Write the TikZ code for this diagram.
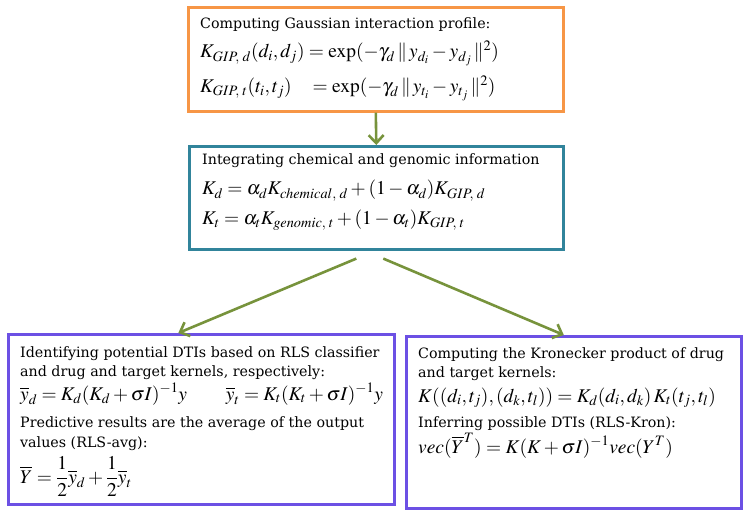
\documentclass[tikz,border=0pt]{standalone}
\usepackage{amsmath}
\usepackage{mathptmx}
\usepackage[no-math]{fontspec}
\setmainfont{DejaVu Serif}
\usetikzlibrary{arrows,arrows.meta}

\definecolor{gipline}{RGB}{247,150,70}
\definecolor{mixline}{RGB}{49,132,155}
\definecolor{rlsline}{RGB}{108,80,228}
\definecolor{flowline}{RGB}{119,147,60}

\tikzset{
  box/.style={draw, line width=2.6bp, anchor=north west, inner sep=0pt},
  txt/.style={anchor=base west, inner sep=0pt, font=\fontsize{14.3}{16}\selectfont},
  eqn/.style={anchor=base west, inner sep=0pt, font=\fontsize{19.5}{22}\selectfont},
  flow/.style={-{Straight Barb[length=8bp,width=15bp]}, draw=flowline, line width=2.6bp},
}

\begin{document}
\begin{tikzpicture}[x=1bp,y=-1bp]
\useasboundingbox (0,0) rectangle (750,515);
% the four boxes
\node[box, draw=gipline, minimum width=375bp, minimum height=104bp] (gip) at (187,6) {};
\node[box, draw=mixline, minimum width=374bp, minimum height=103bp] (mix) at (188,145) {};
\node[box, draw=rlsline, minimum width=386bp, minimum height=170bp] (rls) at (7,333) {};
\node[box, draw=rlsline, minimum width=335bp, minimum height=172bp] (kron) at (405,335) {};
% Gaussian interaction profile
\node[txt] (gip-t1) at (200,29) {Computing Gaussian interaction profile:};
\node[eqn] (gip-e1) at (200,58) {$K_{GIP,\;d}(d_i,d_j) = \exp(-\gamma_d\, \|\, y_{d_i} - y_{d_j}\, \|^2)$};
\node[eqn] (gip-e2) at (200,93) {$K_{GIP,\;t}(t_i,t_j)\ \ \; = \exp(-\gamma_d\, \|\, y_{t_i} - y_{t_j}\, \|^2)$};
% chemical and genomic
\node[txt] (mix-t1) at (202,165) {Integrating chemical and genomic information};
\node[eqn] (mix-e1) at (202,195) {$K_d = \alpha_d K_{chemical,\;d} + (1-\alpha_d) K_{GIP,\;d}$};
\node[eqn] (mix-e2) at (202,225) {$K_t = \alpha_t K_{genomic,\;t} + (1-\alpha_t) K_{GIP,\;t}$};
% RLS-avg
\node[txt] (rls-t1) at (20,357) {Identifying potential DTIs based on RLS classifier};
\node[txt] (rls-t2) at (20,376) {and drug and target kernels, respectively:};
\node[eqn] (rls-e1) at (20,400) {$\overline{y}_d = K_d(K_d+\sigma I)^{-1} y \qquad \overline{y}_t = K_t(K_t+\sigma I)^{-1} y$};
\node[txt] (rls-t3) at (20,427) {Predictive results are the average of the output};
\node[txt] (rls-t4) at (20,447) {values (RLS-avg):};
\node[eqn] (rls-e2) at (20,483) {$\overline{Y} = \dfrac{1}{2}\overline{y}_d + \dfrac{1}{2}\overline{y}_t$};
% RLS-Kron
\node[txt] (kron-t1) at (418,358) {Computing the Kronecker product of drug};
\node[txt] (kron-t2) at (418,377) {and target kernels:};
\node[eqn] (kron-e1) at (418,402) {$K((d_i,t_j),(d_k,t_l)) = K_d(d_i,d_k)\,K_t(t_j,t_l)$};
\node[txt] (kron-t3) at (418,427) {Inferring possible DTIs (RLS-Kron):};
\node[eqn] (kron-e2) at (418,453) {$vec(\overline{Y}^T) = K(K+\sigma I)^{-1} vec(Y^T)$};
% arrows
\draw[flow] (gip.south) -- (mix.north);
\draw[flow] ([xshift=-20bp,yshift=-8bp]mix.south) -- ([xshift=-23bp]rls.north);
\draw[flow] ([xshift=7bp,yshift=-8bp]mix.south) -- ([xshift=-10bp]kron.north);
\end{tikzpicture}
\end{document}
